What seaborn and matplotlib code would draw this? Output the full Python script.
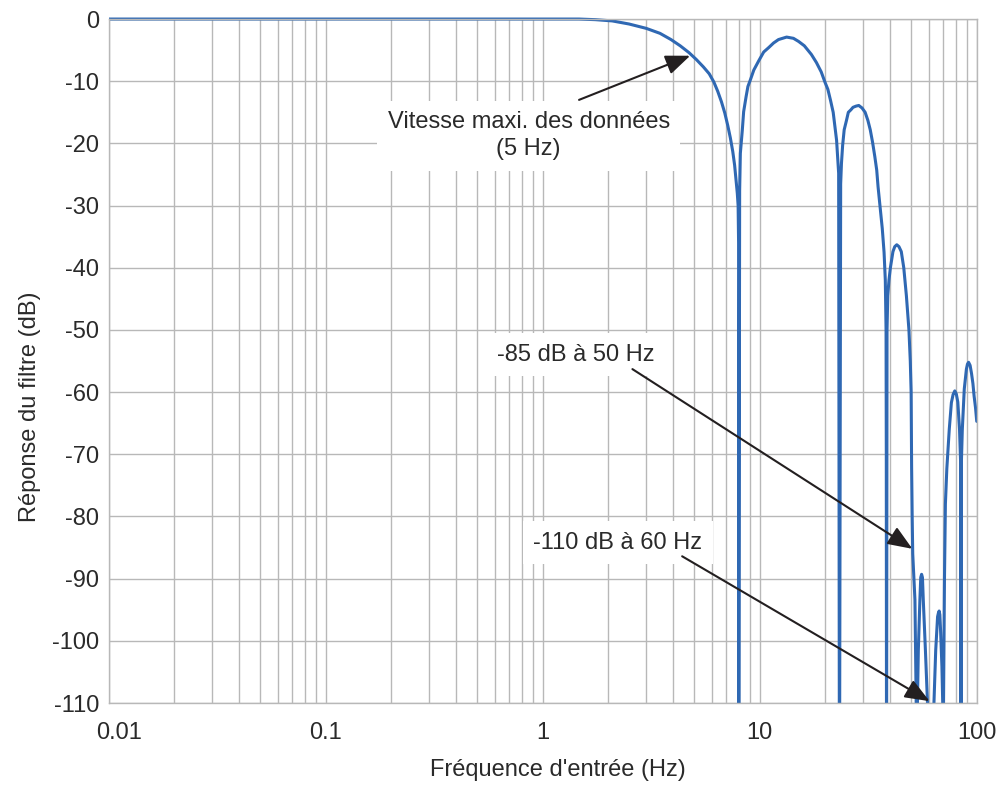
import numpy as np
import pandas as pd
import matplotlib
matplotlib.use("Agg")
import matplotlib.pyplot as plt
import matplotlib.transforms as mtransforms
from matplotlib.patches import Rectangle
from matplotlib.ticker import FixedLocator, LogLocator, NullFormatter
import seaborn as sns

# ---------------- data ----------------
# pass band and roll-off up to the first notch (8 Hz)
freq_rolloff = [0.01, 0.1, 1.0, 1.47, 1.75, 2.09, 2.5, 3.0, 3.47, 3.9, 4.3, 4.72, 5.1, 5.5, 5.85, 6.14,
                6.4, 6.66, 6.9, 7.12, 7.32, 7.51, 7.66, 7.78, 7.88, 7.95, 7.99, 8.0]
db_rolloff = [0, 0, 0, 0, -0.1, -0.3, -0.8, -1.5, -2.3, -3.3, -4.3, -5.4, -6.5, -7.7, -8.8, -10.1,
              -11.6, -13.3, -15.1, -17.1, -19.1, -21.3, -23.5, -25.9, -28.0, -30.0, -36.0, -130]

# first side lobe (8 Hz .. 23.3 Hz)
freq_lobe1 = [8.08, 8.14, 8.31, 8.43, 8.65, 8.82, 9.05, 9.39, 9.9, 10.43, 10.99, 11.58, 12.2, 13.3,
              14.3, 15.1, 16.05, 17.3, 18.25, 19.2, 20.0, 20.6, 21.2, 21.8, 22.6, 23.1, 23.3]
db_lobe1 = [-27.6, -21.6, -17.9, -14.9, -12.5, -10.85, -9.8, -8.2, -6.7, -5.3, -4.6, -3.85, -3.3, -2.9,
            -3.1, -3.6, -4.3, -5.7, -7.0, -8.5, -10.2, -11.3, -13.1, -15.0, -19.5, -24.8, -130]

# second side lobe (23.3 Hz .. 38.4 Hz)
freq_lobe2 = [23.6, 23.8, 24.1, 24.5, 25.1, 25.6, 26.3, 26.9, 27.8, 28.6, 29.6, 30.6, 31.5, 32.3, 33.1,
              33.9, 34.6, 35.1, 36.1, 36.7, 37.4, 37.9, 38.2, 38.3, 38.4]
db_lobe2 = [-26.5, -23.2, -20.3, -17.8, -16.3, -15.0, -14.6, -14.2, -14.0, -13.9, -14.3, -15.0, -16.3, -17.8, -19.8,
            -22.1, -24.3, -27.0, -31.3, -33.7, -37.5, -42.0, -50.0, -70.0, -130]

# third side lobe (38.4 Hz .. 53 Hz)
freq_lobe3 = [38.6, 38.9, 39.4, 40.0, 41.1, 41.9, 42.8, 43.8, 44.9, 46.1, 47.4, 48.7, 49.4, 49.85, 50.1,
              50.4, 50.7, 51.9, 52.6, 52.95]
db_lobe3 = [-50.0, -44.5, -42.0, -40.0, -37.4, -36.6, -36.3, -36.6, -37.4, -40.0, -44.5, -50.0, -55.0, -60.0, -72.0,
            -80.0, -86.0, -93.4, -110, -125]

# small lobes around 55 Hz and 67 Hz
freq_small = [53.3, 53.8, 54.7, 55.2, 55.7, 56.2, 56.7, 58.0, 59.3, 61.4,
              63.5, 64.7, 66.0, 66.6, 67.1, 67.6, 68.2, 69.1, 69.7, 70.0]
db_small = [-110, -101.5, -93.4, -89.8, -89.3, -89.8, -93.4, -101.5, -110, -130,
            -110, -101.5, -96.1, -95.5, -95.2, -95.8, -98.7, -104.1, -110, -125]

# last lobes up to 100 Hz
freq_high = [70.3, 71.0, 71.7, 72.8, 74.7, 76.4, 77.8, 79.2, 80.5, 81.8, 83.3, 84.2, 84.6,
             85.0, 85.8, 87.6, 89.6, 90.6, 91.7, 93.2, 94.6, 96.0, 97.2, 98.7, 100.0]
db_high = [-110, -90, -78, -72.3, -66, -61.7, -60.4, -59.8, -60.3, -61.6, -66, -71, -130,
           -71, -66, -59.5, -56.3, -55.5, -55.2, -55.7, -57.0, -58.6, -60.6, -62.5, -64.7]

freq_hz = freq_rolloff + freq_lobe1 + freq_lobe2 + freq_lobe3 + freq_small + freq_high
response_db = db_rolloff + db_lobe1 + db_lobe2 + db_lobe3 + db_small + db_high
assert len(freq_hz) == len(response_db)

x_ticks = [0.01, 0.1, 1, 10, 100]
x_tick_labels = ["0.01", "0.1", "1", "10", "100"]
y_ticks = [0, -10, -20, -30, -40, -50, -60, -70, -80, -90, -100, -110]
y_tick_labels = ["0", "-10", "-20", "-30", "-40", "-50", "-60", "-70", "-80", "-90", "-100", "-110"]

x_label = "Fréquence d'entrée (Hz)"
y_label = "Réponse du filtre (dB)"

note_texts = ["Vitesse maxi. des données\n(5 Hz)", "-85 dB à 50 Hz", "-110 dB à 60 Hz"]
note_text_pos = [(0.861, -18.8), (1.42, -54.0), (2.22, -84.2)]
note_tails = [(1.47, -13.0), (2.59, -56.3), (4.39, -86.4)]
note_tips = [(4.78, -5.9), (50.5, -85.2), (60.6, -109.7)]

# ---------------- styling ----------------
sns.set_style("white")
plt.rcParams["font.family"] = ["Liberation Sans", "DejaVu Sans"]
plt.rcParams["axes.unicode_minus"] = False

line_color = "#2f68b3"
grid_color = "#b8b8b8"
text_color = "#2a2a2a"
arrow_color = "#231f20"
fs = 17

fig = plt.figure(figsize=(10.02, 7.87), dpi=100)
ax = fig.add_axes([0.1085, 0.1067, 0.8663, 0.8691])

df = pd.DataFrame({"freq": freq_hz, "db": response_db})
sns.lineplot(data=df, x="freq", y="db", ax=ax, color=line_color, linewidth=2.2,
             sort=False, estimator=None, zorder=2)

ax.set_xscale("log")
ax.set_xlim(0.01, 100)
ax.set_ylim(-110, 0)

line = ax.lines[0]
line.set_solid_joinstyle("round")
line.set_clip_path(Rectangle((0, 0), 1, 1.03, transform=ax.transAxes))

ax.xaxis.set_major_locator(FixedLocator(x_ticks))
ax.set_xticks(x_ticks, x_tick_labels)
ax.xaxis.set_minor_locator(LogLocator(base=10, subs=np.arange(2, 10), numticks=20))
ax.xaxis.set_minor_formatter(NullFormatter())
ax.set_yticks(y_ticks, y_tick_labels)

ax.set_axisbelow(True)
ax.grid(True, which="both", axis="x", color=grid_color, linewidth=1.0)
ax.grid(True, which="major", axis="y", color=grid_color, linewidth=1.0)
for sp in ax.spines.values():
    sp.set_color(grid_color)
    sp.set_linewidth(1.0)

ax.tick_params(which="both", length=0)
ax.tick_params(axis="x", pad=14, labelsize=fs, labelcolor=text_color)
ax.tick_params(axis="y", pad=7, labelsize=fs, labelcolor=text_color)

first = ax.get_xticklabels()[0]
first.set_transform(first.get_transform() + mtransforms.ScaledTranslation(10 / 100, 0, fig.dpi_scale_trans))

ax.set_xlabel(x_label, fontsize=fs, color=text_color)
ax.set_ylabel(y_label, fontsize=fs, color=text_color)
ax.xaxis.label.set_va("center")
ax.yaxis.label.set_va("center")
ax.xaxis.set_label_coords(0.5176, -0.098)
ax.yaxis.set_label_coords(-0.091, 0.433)

for txt, pos, tail, tip in zip(note_texts, note_text_pos, note_tails, note_tips):
    ax.text(pos[0], pos[1], txt, ha="center", va="center", fontsize=fs, color=text_color,
            linespacing=1.3, zorder=3,
            bbox=dict(boxstyle="square,pad=0.45", facecolor="white", edgecolor="none"))
    ax.annotate("", xy=tip, xytext=tail, zorder=4,
                arrowprops=dict(arrowstyle="-|>,head_length=0.75,head_width=0.3",
                                mutation_scale=20, color=arrow_color, lw=1.5,
                                shrinkA=0, shrinkB=0))

fig.savefig("out.png", dpi=100, facecolor="white")
